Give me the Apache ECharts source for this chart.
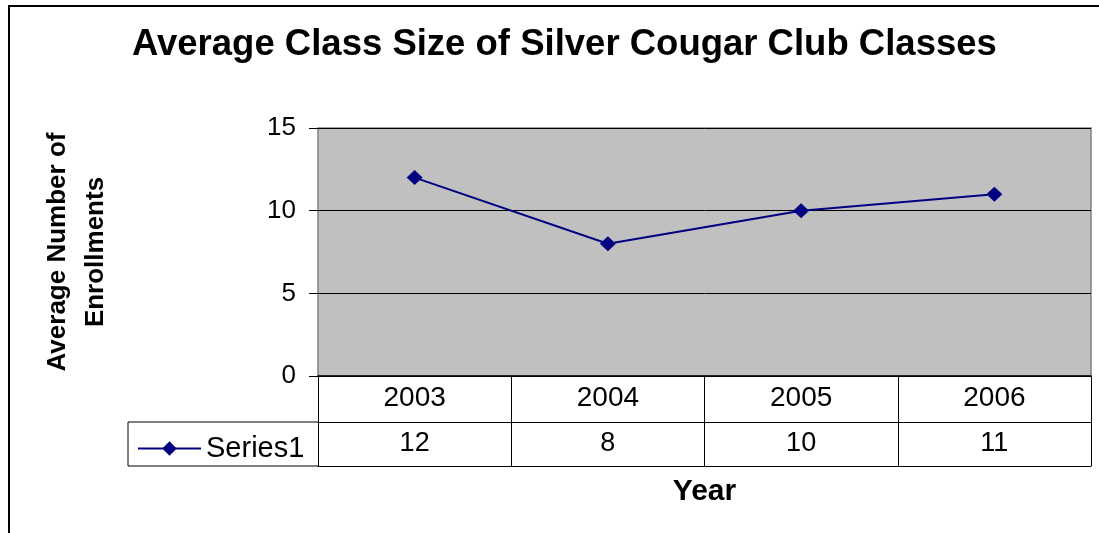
<!DOCTYPE html>
<html>
<head>
<meta charset="utf-8">
<script src="https://cdn.jsdelivr.net/npm/echarts@6/dist/echarts.min.js"></script>
<style>
html,body{margin:0;padding:0;background:#fff;}
#chart{width:1099px;height:533px;}
</style>
</head>
<body>
<div id="chart"></div>
<script>
var categories = ['2003', '2004', '2005', '2006'];
var series1 = [12, 8, 10, 11];
var seriesName = 'Series1';
var yTicks = [0, 5, 10, 15];

var FONT = '"Liberation Sans", Arial, sans-serif';
var chart = echarts.init(document.getElementById('chart'), null, {renderer: 'canvas'});

var option = {
  backgroundColor: '#ffffff',
  animation: false,
  title: {
    text: 'Average Class Size of Silver Cougar Club Classes',
    left: 132,
    top: 26,
    padding: 0,
    textStyle: {fontFamily: FONT, fontSize: 36.5, fontWeight: 'bold', color: '#000'}
  },
  legend: {
    data: [seriesName],
    left: 137,
    top: 434,
    padding: 0,
    itemWidth: 63,
    itemHeight: 18,
    itemGap: 5,
    textStyle: {fontFamily: FONT, fontSize: 29, color: '#000'}
  },
  grid: {
    left: 318, top: 128, right: 8, bottom: 157,
    show: true,
    backgroundColor: '#c0c0c0',
    borderColor: '#808080',
    borderWidth: 1.5
  },
  xAxis: [
    {
      type: 'category',
      data: categories,
      position: 'bottom',
      boundaryGap: true,
      axisLine: {show: true, lineStyle: {color: '#000', width: 1.5}},
      axisTick: {show: true, length: 90, interval: 0, lineStyle: {color: '#000', width: 1}},
      axisLabel: {fontFamily: FONT, fontSize: 28, color: '#000', margin: 8, interval: 0}
    },
    {
      type: 'category',
      data: series1.map(String),
      position: 'bottom',
      offset: 46,
      boundaryGap: true,
      axisLine: {show: true, lineStyle: {color: '#000', width: 1}},
      axisTick: {show: false},
      axisLabel: {fontFamily: FONT, fontSize: 27, color: '#000', margin: 8, interval: 0}
    },
    {
      type: 'category',
      data: categories,
      position: 'bottom',
      offset: 90,
      boundaryGap: true,
      axisLine: {show: true, lineStyle: {color: '#000', width: 1}},
      axisTick: {show: false},
      axisLabel: {show: false},
      name: 'Year',
      nameLocation: 'middle',
      nameGap: 11,
      nameTextStyle: {fontFamily: FONT, fontSize: 30, fontWeight: 'bold', color: '#000', verticalAlign: 'top'}
    }
  ],
  yAxis: {
    type: 'value',
    min: yTicks[0],
    max: yTicks[yTicks.length - 1],
    interval: yTicks[1] - yTicks[0],
    axisLine: {show: false},
    axisTick: {show: true, length: 9, lineStyle: {color: '#000', width: 1}},
    axisLabel: {fontFamily: FONT, fontSize: 26, color: '#000', margin: 22},
    splitLine: {show: true, lineStyle: {color: '#000', width: 1}},
    name: 'Average Number of\nEnrollments',
    nameLocation: 'middle',
    nameRotate: 90,
    nameGap: 203,
    nameTextStyle: {fontFamily: FONT, fontSize: 26, fontWeight: 'bold', color: '#000', lineHeight: 38, align: 'center'}
  },
  series: [{
    name: seriesName,
    type: 'line',
    data: series1,
    xAxisIndex: 0,
    symbol: 'diamond',
    symbolSize: [16, 15],
    lineStyle: {color: '#000080', width: 2},
    itemStyle: {color: '#000080'}
  }],
  graphic: [
    {type: 'rect', shape: {x: 9, y: 6, width: 1200, height: 700}, style: {fill: 'none', stroke: '#000', lineWidth: 2}, silent: true},
    {type: 'line', shape: {x1: 128, y1: 422, x2: 318, y2: 422}, style: {stroke: '#000', lineWidth: 1}},
    {type: 'line', shape: {x1: 128, y1: 466, x2: 318, y2: 466}, style: {stroke: '#000', lineWidth: 1}},
    {type: 'line', shape: {x1: 128, y1: 422, x2: 128, y2: 466}, style: {stroke: '#000', lineWidth: 1}}
  ]
};
chart.setOption(option);
</script>
</body>
</html>
